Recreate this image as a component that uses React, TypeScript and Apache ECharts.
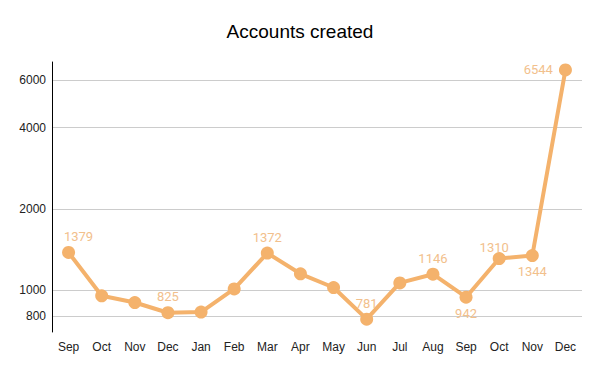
import React, { useEffect, useRef } from "react";
import * as echarts from "echarts";

const months = ["Sep", "Oct", "Nov", "Dec", "Jan", "Feb", "Mar", "Apr", "May", "Jun", "Jul", "Aug", "Sep", "Oct", "Nov", "Dec"];
const accounts = [1379, 953, 900, 825, 830, 1011, 1372, 1150, 1023, 781, 1064, 1146, 942, 1310, 1344, 6544];
const yTicks = [800, 1000, 2000, 4000, 6000];
const labelAbove = [0, 3, 6, 9, 11, 13];
const labelBelow = [12, 14];
const labelLeft = [15];

export default function App() {
  const ref = useRef<HTMLDivElement>(null);
  useEffect(() => {
    if (!ref.current) return;
    const chart = echarts.init(ref.current, null, { renderer: "svg" });
    const data = accounts.map((v, i) => {
      let label: any = { show: false };
      if (labelAbove.includes(i)) label = { show: true, position: "top", distance: 3 };
      if (labelBelow.includes(i)) label = { show: true, position: "bottom", distance: 3 };
      if (labelLeft.includes(i)) label = { show: true, position: "left", distance: 6 };
      if (i === 0) label.offset = [10, 0];
      if (i === 13) label.offset = [-5, 5];
      return { value: v, label };
    });
    chart.setOption({
      animation: false,
      title: {
        text: "Accounts created",
        left: "center",
        top: 17,
        textStyle: { fontFamily: "Liberation Sans", fontSize: 19, fontWeight: "normal", color: "#000" },
      },
      grid: { left: 52, right: 18, top: 62, bottom: 39 },
      xAxis: {
        type: "category",
        data: months,
        axisLine: { show: false },
        axisTick: { show: false },
        axisLabel: { color: "#222", fontFamily: "Liberation Sans", fontSize: 12, margin: 9 },
      },
      yAxis: {
        type: "log",
        logBase: 10,
        min: 700,
        max: 7000,
        axisLine: { show: true, lineStyle: { color: "#000", width: 1 } },
        axisTick: { show: false, customValues: yTicks },
        axisLabel: {
          customValues: yTicks,
          formatter: (v: number) => String(Math.round(v)),
          color: "#222",
          fontFamily: "Liberation Sans",
          fontSize: 12,
          margin: 6,
        },
        splitLine: { show: true, lineStyle: { color: "#cccccc", width: 1 } },
      },
      series: [
        {
          type: "line",
          data,
          symbol: "circle",
          symbolSize: 13,
          lineStyle: { color: "#f4b26c", width: 4 },
          itemStyle: { color: "#f4b26c" },
          label: { color: "#f2c08c", fontFamily: "Roboto", fontSize: 13, formatter: (p: any) => String(p.value) },
        },
      ],
    });
    return () => chart.dispose();
  }, []);
  return <div ref={ref} style={{ width: 600, height: 371, position: "absolute", left: 0, top: 0 }} />;
}
